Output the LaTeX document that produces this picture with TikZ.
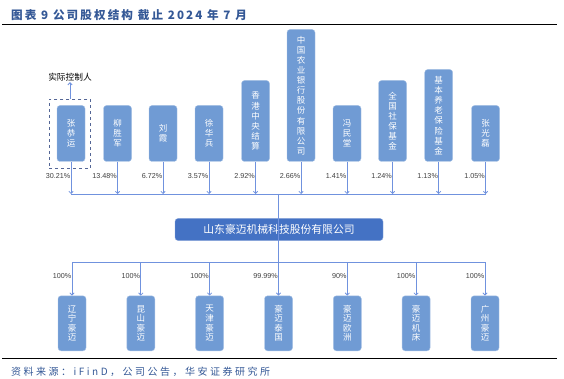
\documentclass[tikz,border=0pt]{standalone}
\usepackage{fontspec}
\setmainfont{Liberation Sans}
\newfontfamily\cjk{Noto Sans CJK SC}
\newfontfamily\cjktitle[LetterSpace=18]{Noto Sans CJK SC}
\newfontfamily\cjknote[LetterSpace=25]{Noto Sans CJK SC}
\usetikzlibrary{arrows.meta}
\definecolor{titleblue}{RGB}{52,88,150}
\definecolor{boxblue}{RGB}{112,155,212}
\definecolor{mainblue}{RGB}{68,114,196}
\definecolor{linkblue}{RGB}{112,146,222}
\definecolor{dashblue}{RGB}{84,102,150}
\definecolor{pctgray}{RGB}{64,64,64}

\begin{document}
\begin{tikzpicture}[x=1pt,y=-1pt,
    holder/.style={rectangle, rounded corners=3pt, fill=boxblue, draw=boxblue!60!white,
      line width=0.4pt, text=white, minimum width=28pt, inner sep=0pt, align=center,
      anchor=south, font=\cjk\fontsize{8.5}{10.1}\selectfont},
    sub/.style={holder, anchor=center, minimum height=55pt, font=\cjk\fontsize{8.5}{9.6}\selectfont},
    company/.style={rectangle, rounded corners=3pt, fill=mainblue, draw=mainblue!60!white,
      line width=0.4pt, text=white, minimum width=208pt, minimum height=22pt, inner sep=0pt,
      font=\cjk\fontsize{10.8}{12}\selectfont},
    pct/.style={anchor=east, inner sep=0pt, text=pctgray, font=\fontsize{7.2}{8}\selectfont},
    link/.style={draw=linkblue, line width=0.8pt},
    tip/.style={-{Straight Barb[length=2.2pt,width=4.4pt]}}]
  \useasboundingbox (0,0) rectangle (564,379);

  % title and rules
  \node[anchor=west, inner sep=0pt, text=titleblue, font=\cjktitle\bfseries\fontsize{11.6}{13}\selectfont]
    (title) at (11,15) {图表 9 公司股权结构 截止 2024 年 7 月};
  \draw[line width=1pt] (2,25) -- (557,25);
  \draw[line width=1pt] (2,358) -- (557,358);
  \node[anchor=west, inner sep=0pt, text=titleblue, font=\cjknote\fontsize{10}{11}\selectfont]
    (source) at (11,371.5) {资料来源：iFinD，公司公告，华安证券研究所};

  % shareholders
  \node[holder, minimum height=56pt] (h1) at (71,161.7) {张\\恭\\运};
  \node[holder, minimum height=56pt] (h2) at (117.5,161.7) {柳\\胜\\军};
  \node[holder, minimum height=56pt] (h3) at (163,161.7) {刘\\霞};
  \node[holder, minimum height=56pt] (h4) at (209,161.7) {徐\\华\\兵};
  \node[holder, minimum height=81pt] (h5) at (255.5,161.7) {香\\港\\中\\央\\结\\算};
  \node[holder, minimum height=132pt] (h6) at (301,161.7) {中\\国\\农\\业\\银\\行\\股\\份\\有\\限\\公\\司};
  \node[holder, minimum height=56pt] (h7) at (347,161.7) {冯\\民\\堂};
  \node[holder, minimum height=81pt] (h8) at (392.5,161.7) {全\\国\\社\\保\\基\\金};
  \node[holder, minimum height=92pt] (h9) at (438.7,161.7) {基\\本\\养\\老\\保\\险\\基\\金};
  \node[holder, minimum height=56pt] (h10) at (485.5,161.7) {张\\光\\磊};

  % actual controller
  \node[draw=dashblue, dashed, line width=0.6pt, minimum width=41.4pt, minimum height=69.3pt,
    inner sep=0pt] (ctl) at (70,133.7) {};
  \node[inner sep=1pt, text=black, font=\cjk\fontsize{8.7}{10}\selectfont] (ctltext) at (70,77) {实际控制人};
  \draw[link, tip] (ctl.north) -- (ctltext.south);

  \coordinate (bus) at (278.3,194);
  \coordinate (subbus) at (278.3,262.3);

  \foreach \i/\p in {1/30.21,2/13.48,3/6.72,4/3.57,5/2.92,6/2.66,7/1.41,8/1.24,9/1.13,10/1.05}{
    \node[pct, xshift=-0.6pt] (p\i) at (h\i.south |- 0,176.5) {\p\%};
    \draw[link, tip] (h\i.south) -- (h\i.south |- bus);
  }
  \draw[link] (h1.south |- bus) -- (h10.south |- bus);

  % company
  \node[company] (main) at (279,229.5) {山东豪迈机械科技股份有限公司};
  \draw[link] (bus) -- (subbus);

  % subsidiaries
  \node[sub] (s1) at (72,323.3) {辽\\宁\\豪\\迈};
  \node[sub] (s2) at (140.8,323.3) {昆\\山\\豪\\迈};
  \node[sub] (s3) at (209.6,323.3) {天\\津\\豪\\迈};
  \node[sub] (s4) at (278.5,323.3) {豪\\迈\\泰\\国};
  \node[sub] (s5) at (347.3,323.3) {豪\\迈\\欧\\洲};
  \node[sub] (s6) at (416.1,323.3) {豪\\迈\\机\\床};
  \node[sub] (s7) at (485,323.3) {广\\州\\豪\\迈};
  \draw[link] (s1.north |- subbus) -- (s7.north |- subbus);
  \foreach \i/\p in {1/100,2/100,3/100,4/99.99,5/90,6/100,7/100}{
    \node[pct, xshift=-0.6pt] (q\i) at (s\i.north |- 0,276) {\p\%};
    \draw[link, tip] (s\i.north |- subbus) -- (s\i.north);
  }
\end{tikzpicture}
\end{document}
